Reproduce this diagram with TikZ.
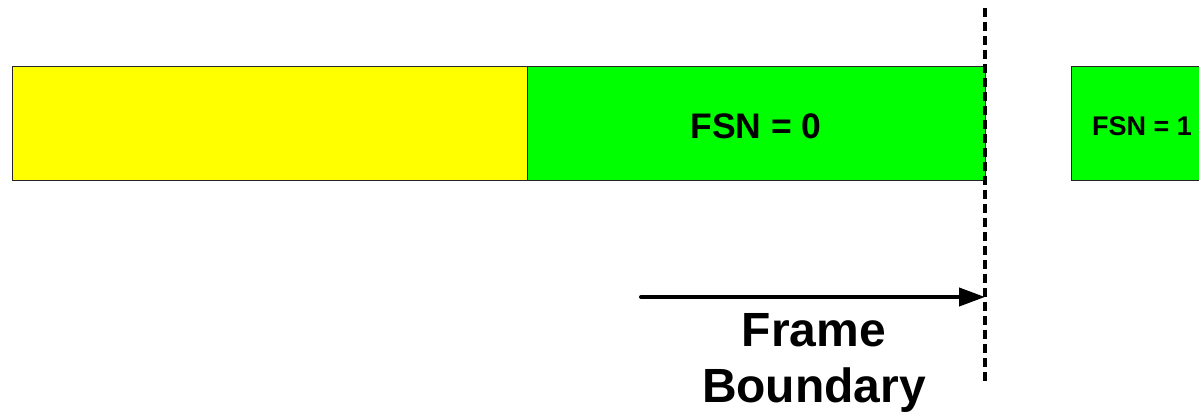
\documentclass[tikz,border=0pt]{standalone}
\usepackage{fontspec}
\setmainfont{Liberation Sans}
\usetikzlibrary{arrows.meta}
\definecolor{fyellow}{RGB}{255,255,0}
\definecolor{fgreen}{RGB}{0,255,0}
\begin{document}
\begin{tikzpicture}[x=1pt,y=-1pt,
  framebox/.style={draw=black!85,line width=1pt},
  lbl/.style={font=\bfseries\fontsize{#1}{#1}\selectfont,text=black,inner sep=0pt}]
\useasboundingbox (0,0) rectangle (1199,414);
\clip (0,0) rectangle (1199,414);
\draw[framebox,fill=fyellow] (12,67) rectangle (527,181);
\draw[framebox,fill=fgreen] (527,67) rectangle (985,181);
\draw[framebox,fill=fgreen] (1071,67) rectangle (1215,181);
\node[lbl=35.5] (f0) at (756,126) {FSN = 0};
\node[lbl=27] (f1) at (1142,126) {FSN = 1};
\coordinate (top) at (985,8);
\coordinate (bot) at (985,384);
\draw[line width=4pt,dash pattern=on 9pt off 5pt] (top) -- (bot);
\coordinate (astart) at (641,297);
\coordinate (aend) at (985,297);
\draw[line width=4pt,line cap=round,-{Triangle[length=26pt,width=18pt]}] (astart) -- (aend);
\node[lbl=48,align=center] (fb) at (814,363) {Frame\\[8pt]Boundary};
\end{tikzpicture}
\end{document}
